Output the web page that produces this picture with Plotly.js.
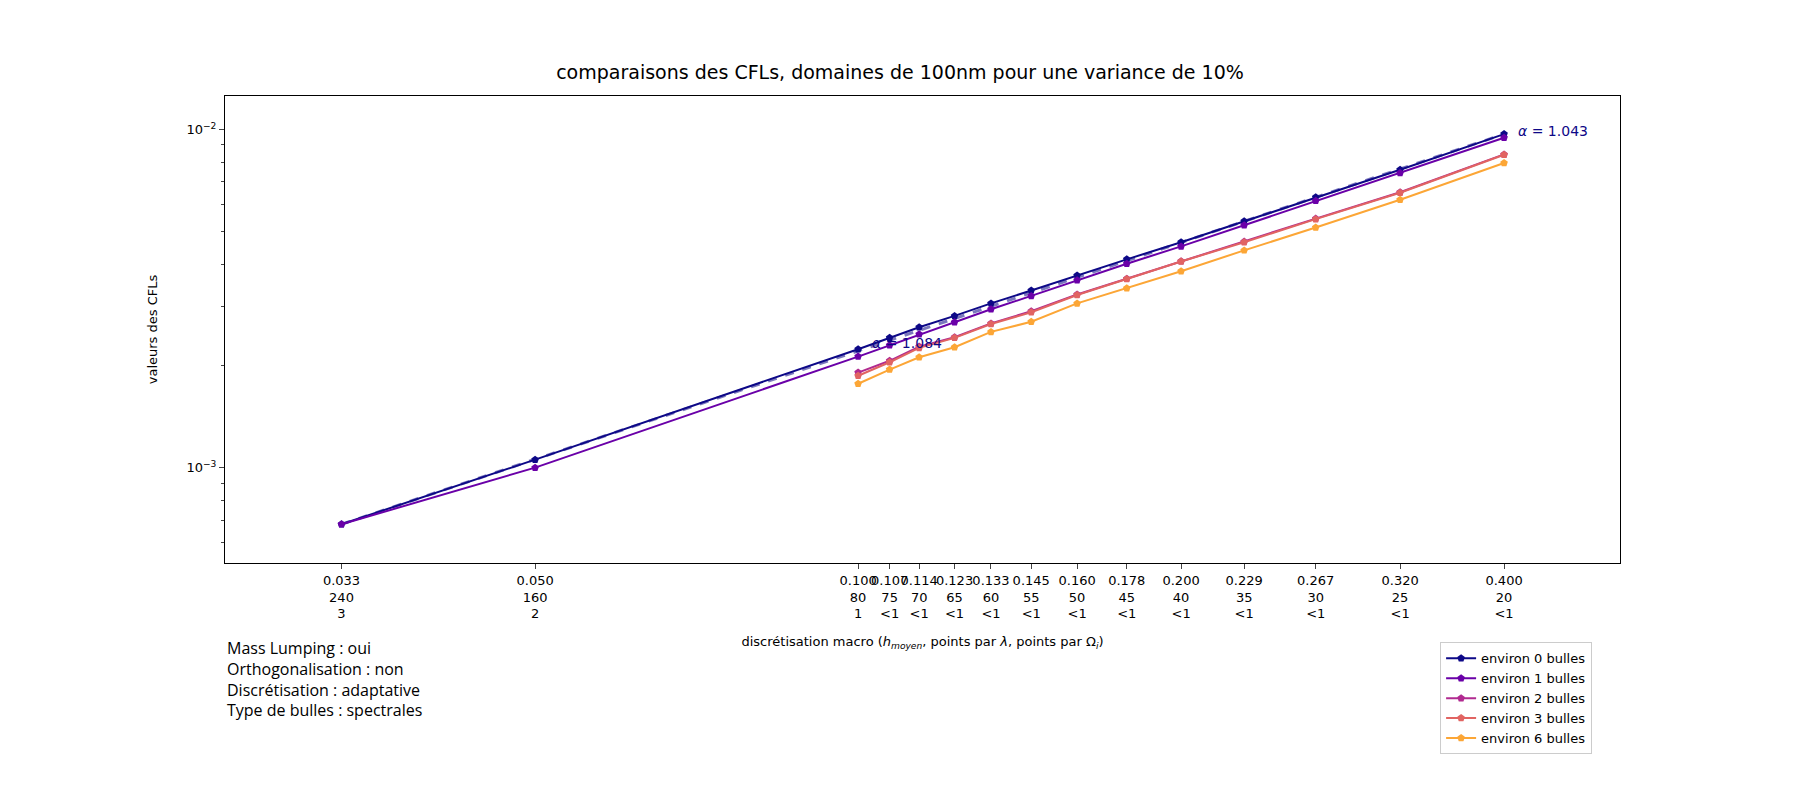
<!DOCTYPE html>
<html><head><meta charset="utf-8">
<script src="https://cdn.plot.ly/plotly-3.0.1.min.js"></script>
<style>body{margin:0;background:#fff}#c{width:1800px;height:800px}</style>
</head><body><div id="c"></div>
<script>
const h = [0.033,0.050,0.100,0.107,0.114,0.123,0.133,0.145,0.160,0.178,0.200,0.229,0.267,0.320,0.400];
const tickLabels = ["0.033<br>240<br>3","0.050<br>160<br>2","0.100<br>80<br>1","0.107<br>75<br><1","0.114<br>70<br><1","0.123<br>65<br><1","0.133<br>60<br><1","0.145<br>55<br><1","0.160<br>50<br><1","0.178<br>45<br><1","0.200<br>40<br><1","0.229<br>35<br><1","0.267<br>30<br><1","0.320<br>25<br><1","0.400<br>20<br><1"];
const b0 = [6.8e-4,1.056e-3,2.24e-3,2.42e-3,2.60e-3,2.81e-3,3.06e-3,3.34e-3,3.70e-3,4.13e-3,4.64e-3,5.35e-3,6.30e-3,7.60e-3,9.69e-3];
const b1 = [6.8e-4,1.0e-3,2.13e-3,2.30e-3,2.48e-3,2.69e-3,2.94e-3,3.22e-3,3.58e-3,4.01e-3,4.51e-3,5.21e-3,6.15e-3,7.43e-3,9.45e-3];
const hs = h.slice(2);
const b2 = [1.91e-3,2.07e-3,2.28e-3,2.43e-3,2.67e-3,2.90e-3,3.25e-3,3.62e-3,4.08e-3,4.66e-3,5.45e-3,6.52e-3,8.44e-3];
const b3 = [1.87e-3,2.05e-3,2.26e-3,2.42e-3,2.66e-3,2.88e-3,3.24e-3,3.61e-3,4.07e-3,4.64e-3,5.43e-3,6.50e-3,8.42e-3];
const b6 = [1.77e-3,1.95e-3,2.12e-3,2.27e-3,2.52e-3,2.70e-3,3.06e-3,3.39e-3,3.81e-3,4.39e-3,5.13e-3,6.20e-3,7.96e-3];
const fitX = [0.033,0.400];
const fitY = [6.8e-4,9.69e-3];
const names = ["environ 0 bulles","environ 1 bulles","environ 2 bulles","environ 3 bulles","environ 6 bulles"];
const colors = ["#0d0887","#6a00a8","#b12a90","#e16462","#fca636"];
const xs = [h,h,hs,hs,hs], ys=[b0,b1,b2,b3,b6];
const data = [];
data.push({x:fitX,y:fitY,mode:'lines',line:{color:'rgba(13,8,135,0.55)',dash:'dash',width:3},showlegend:false,hoverinfo:'skip'});
for(let i=0;i<5;i++) data.push({x:xs[i],y:ys[i],name:names[i],mode:'lines+markers',line:{color:colors[i],width:2},marker:{symbol:'pentagon',size:8,color:colors[i]}});
const layout = {
  width:1800,height:800,paper_bgcolor:'#fff',plot_bgcolor:'#fff',
  margin:{l:225,r:180,t:96,b:237},
  font:{family:'DejaVu Sans',size:13,color:'#000'},
  title:{text:'comparaisons des CFLs, domaines de 100nm pour une variance de 10%',x:0.5,xanchor:'center',y:0.91,yanchor:'middle',font:{size:19}},
  xaxis:{type:'log',range:[Math.log10(0.0257),Math.log10(0.513)],tickvals:h,ticktext:tickLabels,tickangle:0,ticks:'outside',ticklen:5,showgrid:false,zeroline:false,showline:true,mirror:true,linecolor:'#000',
    title:{text:'discrétisation macro (<i>h<sub>moyen</sub></i>, points par <i>λ</i>, points par Ω<sub><i>i</i></sub>)',font:{size:13},standoff:16}},
  yaxis:{type:'log',range:[-3.282,-1.901],tickvals:[0.001,0.01],ticktext:['10<sup>−3</sup>','10<sup>−2</sup>'],ticks:'outside',ticklen:5,showgrid:false,zeroline:false,showline:true,mirror:true,linecolor:'#000',
    minor:{ticks:'outside',ticklen:3,tickvals:[6e-4,7e-4,8e-4,9e-4,2e-3,3e-3,4e-3,5e-3,6e-3,7e-3,8e-3,9e-3]},
    title:{text:'valeurs des CFLs',font:{size:13},standoff:25}},
  legend:{x:1.0-0.02,xanchor:'right',y:-0.17,yanchor:'top',bordercolor:'#ccc',borderwidth:1,font:{size:13},bgcolor:'#fff'},
  annotations:[
    {x:Math.log10(0.4),y:Math.log10(9.69e-3),xref:'x',yref:'y',text:'<i>α</i> = 1.043',showarrow:false,xanchor:'left',xshift:12,yshift:3,font:{color:'#0d0887',size:14}},
    {x:Math.log10(0.1),y:Math.log10(2.3e-3),xref:'x',yref:'y',text:'<i>α</i> = 1.084',showarrow:false,xanchor:'left',xshift:12,yshift:2,font:{color:'#0d0887',size:14}},
    {x:0,y:-0.155,xref:'paper',yref:'paper',xanchor:'left',yanchor:'top',align:'left',showarrow:false,font:{family:'Open Sans',size:16},
     text:'Mass Lumping : oui<br>Orthogonalisation : non<br>Discrétisation : adaptative<br>Type de bulles : spectrales'}
  ]
};
Plotly.newPlot('c',data,layout,{staticPlot:true});
</script></body></html>
